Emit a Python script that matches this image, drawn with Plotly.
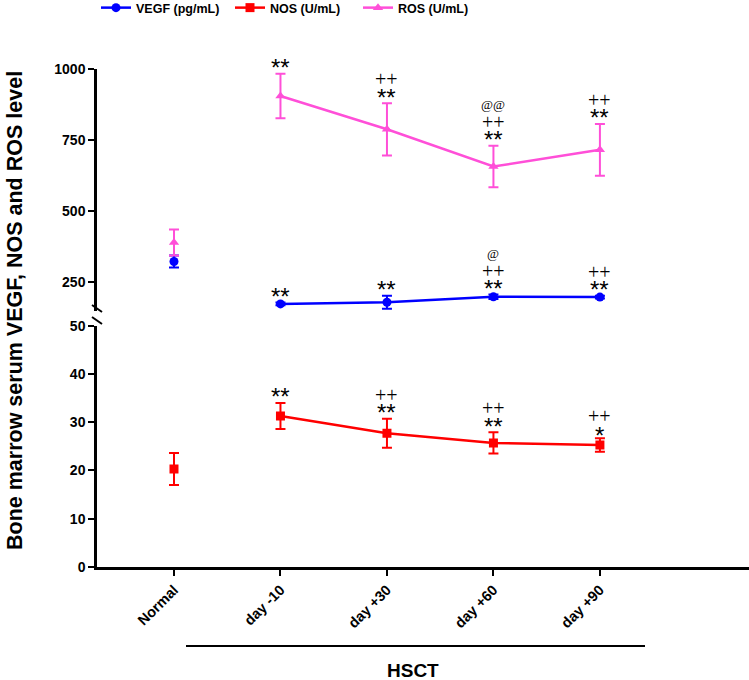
import plotly.graph_objects as go

categories = ["Normal", "day -10", "day +30", "day +60", "day +90"]
xpos = [0, 1, 2, 3, 4]

vegf = [323, 174, 180, 199, 198]
vegf_err = [21, 5, 23, 8, 5]
nos = [20.3, 31.3, 27.7, 25.7, 25.3]
nos_err = [3.3, 2.7, 3.0, 2.2, 1.4]
ros = [390, 905, 788, 657, 716]
ros_err = [46, 78, 92, 73, 91]

# significance labels, bottom to top
vegf_sig = [[], ["**"], ["**"], ["**", "++", "@"], ["**", "++"]]
nos_sig = [[], ["**"], ["**", "++"], ["**", "++"], ["*", "++"]]
ros_sig = [[], ["**"], ["**", "++"], ["**", "++", "@@"], ["**", "++"]]

BLUE = "#0000FF"
RED = "#FF0000"
PINK = "#FF4FD8"

W, H = 749, 680
L, R, T = 97, 0, 69
B = H - 567
pw, ph = W - L - R, H - T - B

def py(p):  # screen pixel y -> paper
    return (H - B - p) / ph

def px(p):
    return (p - L) / pw

fig = go.Figure()

def err(arr, color):
    return dict(type="data", array=arr, visible=True, color=color, thickness=2, width=5)

series = [
    ("VEGF (pg/mL)", vegf, vegf_err, BLUE, "circle", "y2", "legend", 133),
    ("NOS (U/mL)", nos, nos_err, RED, "square", "y", "legend2", 267),
    ("ROS (U/mL)", ros, ros_err, PINK, "triangle-up", "y2", "legend3", 395),
]
for name, vals, errs, col, sym, ax, lg, tx in series:
    fig.add_trace(go.Scatter(x=xpos[1:], y=vals[1:], name="<b>%s</b>" % name, yaxis=ax,
                             mode="lines+markers", legendgroup=name, legend=lg,
                             line=dict(color=col, width=2.5), marker=dict(symbol=sym, size=9, color=col),
                             error_y=err(errs[1:], col)))
for name, vals, errs, col, sym, ax, lg, tx in series:
    fig.add_trace(go.Scatter(x=xpos[:1], y=vals[:1], name=name, yaxis=ax, mode="markers",
                             legendgroup=name, showlegend=False, legend=lg,
                             marker=dict(symbol=sym, size=9, color=col),
                             error_y=err(errs[:1], col)))

annotations = []

STAR = dict(family="Liberation Sans, Arial", size=24, color="black")
PLUS = dict(family="Liberation Serif, Times New Roman", size=20, color="black")
AT = dict(family="Liberation Serif, Times New Roman", size=13, color="black")

def add_sig(values, errs, sigs, yref):
    for i, labs in enumerate(sigs):
        v = 0
        for j, lab in enumerate(labs):
            if "*" in lab:
                font, c = STAR, 19.5
                v += 10 if lab == "**" else 7
            elif "+" in lab:
                font, c = PLUS, 12
                v += 13 if labs[0] == "**" else 14
            else:
                font, c = AT, 8
                v += 17
            annotations.append(dict(x=xpos[i], y=values[i] + errs[i], xref="x", yref=yref, text=lab,
                                    showarrow=False, font=font, yanchor="bottom", xanchor="center",
                                    yshift=v - c))

add_sig(vegf, vegf_err, vegf_sig, "y2")
add_sig(ros, ros_err, ros_sig, "y2")
add_sig(nos, nos_err, nos_sig, "y")

annotations.append(dict(x=px(413), y=py(670), xref="paper", yref="paper", text="<b>HSCT</b>",
                        showarrow=False, font=dict(family="Liberation Sans, Arial", size=19, color="black"),
                        xanchor="center", yanchor="middle"))
annotations.append(dict(x=px(15), y=py(311), xref="paper", yref="paper",
                        text="<b>Bone marrow serum VEGF, NOS and ROS level</b>", textangle=-90,
                        showarrow=False, font=dict(family="Liberation Sans, Arial", size=21.5, color="black"),
                        xanchor="center", yanchor="middle"))

shapes = [
    dict(type="line", xref="paper", yref="paper", x0=px(186), x1=px(645), y0=py(646), y1=py(646),
         line=dict(color="black", width=2)),
    dict(type="line", xref="paper", yref="paper", x0=px(92), x1=px(102), y0=py(305), y1=py(312),
         line=dict(color="black", width=2)),
    dict(type="line", xref="paper", yref="paper", x0=px(92), x1=px(102), y0=py(317), y1=py(324),
         line=dict(color="black", width=2)),
]

low_top = py(325.7)
up_bot = py(310.75)

def leg(tx):
    return dict(orientation="h", x=px(tx - 37), y=py(8), xanchor="left", yanchor="middle",
                font=dict(size=12.5, family="Liberation Sans, Arial", color="black"),
                itemwidth=30, bgcolor="rgba(0,0,0,0)")

fig.update_layout(
    width=W, height=H, margin=dict(l=L, r=R, t=T, b=B, autoexpand=False),
    plot_bgcolor="white", paper_bgcolor="white",
    font=dict(family="Liberation Sans, Arial", color="black"),
    showlegend=True,
    legend=leg(series[0][7]), legend2=leg(series[1][7]), legend3=leg(series[2][7]),
    xaxis=dict(range=[-0.723, 5.4], tickvals=xpos, ticktext=["<b>%s</b>" % c for c in categories],
               tickangle=-45, showline=True, linecolor="black", linewidth=2.5, ticks="outside",
               ticklen=6, tickwidth=2, tickcolor="black", showgrid=False, zeroline=False,
               tickfont=dict(size=14.5, family="Liberation Sans, Arial"), anchor="y"),
    yaxis=dict(domain=[0, low_top], range=[0, 50], tickvals=[0, 10, 20, 30, 40, 50],
               ticktext=["<b>%d</b>" % v for v in [0, 10, 20, 30, 40, 50]],
               showline=True, linecolor="black", linewidth=2.5, ticks="outside", ticklen=6, tickwidth=2,
               tickcolor="black", showgrid=False, zeroline=False, anchor="x",
               tickfont=dict(size=14, family="Liberation Sans, Arial")),
    yaxis2=dict(domain=[up_bot, 1], range=[150, 1000], tickvals=[250, 500, 750, 1000],
                ticktext=["<b>%d</b>" % v for v in [250, 500, 750, 1000]],
                showline=True, linecolor="black", linewidth=2.5, ticks="outside", ticklen=6, tickwidth=2,
                tickcolor="black", showgrid=False, zeroline=False, anchor="x",
                tickfont=dict(size=14, family="Liberation Sans, Arial")),
    annotations=annotations, shapes=shapes,
)

fig.write_html("out.html", config={"displayModeBar": False},
               post_script="document.body.style.margin='0';document.body.style.overflow='hidden';")
